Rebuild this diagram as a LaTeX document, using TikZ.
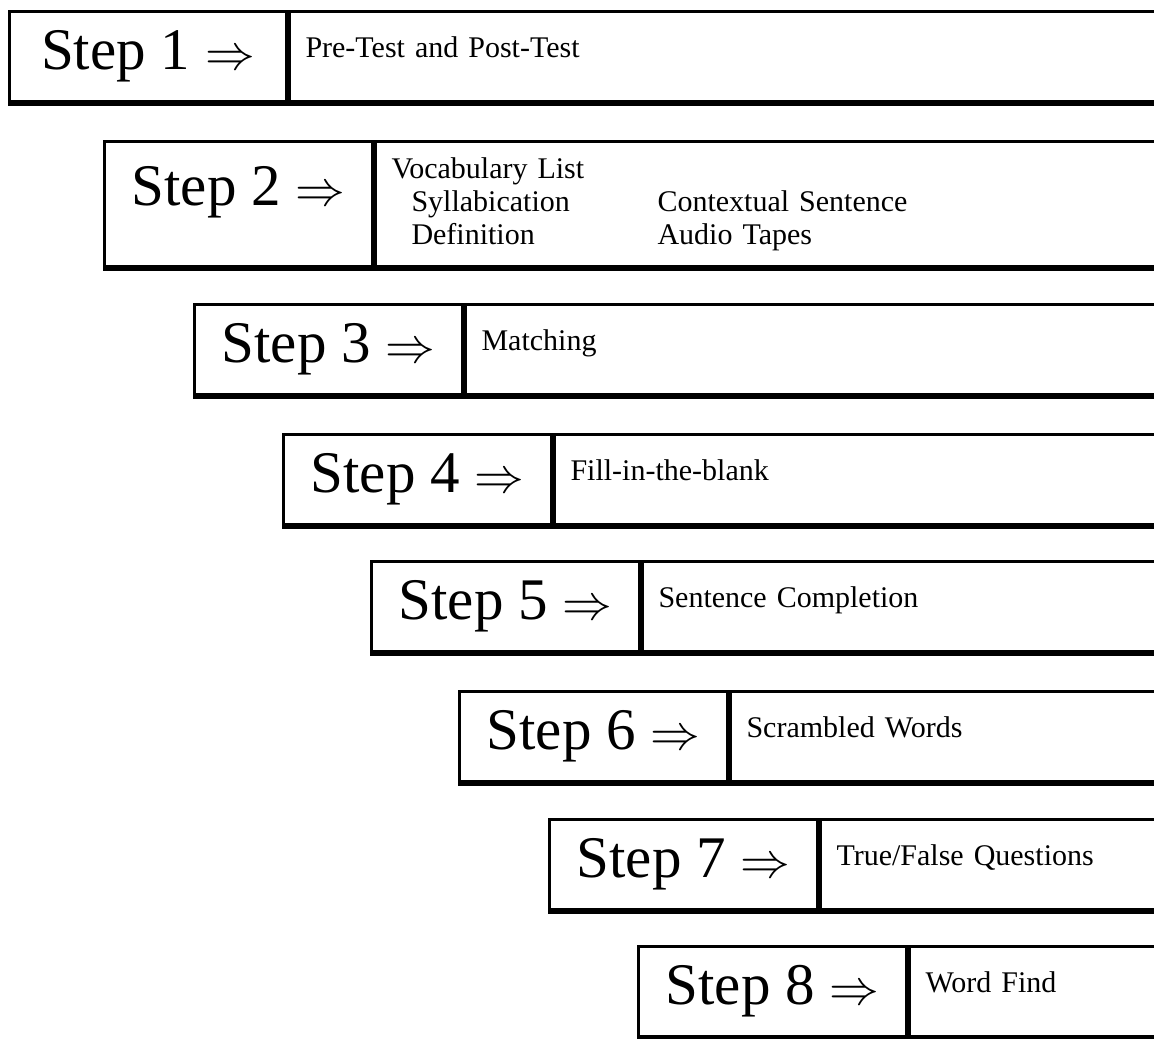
\documentclass[tikz,border=0pt]{standalone}
\usepackage{fontspec}
\setmainfont{Liberation Serif}
\usetikzlibrary{positioning}

\newcommand{\steptext}{\fontsize{29.5}{31}\selectfont}
\newcommand{\tasktext}{\fontsize{15}{16.5}\selectfont}

\begin{document}
\begin{tikzpicture}[x=0.5pt, y=-0.5pt,  %Unidade em pixels, eixo y para baixo
	stepbox/.style={draw, line width=1.5pt, anchor=north west, minimum width=134pt, minimum height=45pt, inner sep=0pt, font=\steptext},
	taskframe/.style={draw, line width=1.5pt, anchor=north west, text width=434pt, inner xsep=8pt, inner ysep=0pt, align=left, font=\tasktext},
	taskbox/.style={taskframe, minimum height=45pt, text height=10pt, text depth=9pt},
	listbox/.style={taskframe, minimum height=62.5pt},
	floorline/.style={line width=3pt}]
					%Moldura
	\useasboundingbox (0,0) rectangle (1154,1038);
	\clip (0,0) rectangle (1154,1038);
					%Passo 1
	\node[stepbox, minimum width=138.5pt] (step1) at (8,10) {Step 1 $\Rightarrow$};
	\node[taskbox] (task1) at (step1.north east) {Pre-Test and Post-Test};
	\draw[floorline] (step1.south west) -- (task1.south east); %Base grossa
					%Passo 2
	\node[stepbox, minimum height=62.5pt, text depth=18pt] (step2) at (103,140) {Step 2 $\Rightarrow$};
	\node[listbox] (task2) at (step2.north east) {Vocabulary List\\
		\hspace*{10pt}\makebox[123pt][l]{Syllabication}Contextual Sentence\\
		\hspace*{10pt}\makebox[123pt][l]{Definition}Audio Tapes};
	\draw[floorline] (step2.south west) -- (task2.south east); %Base grossa
					%Passo 3
	\node[stepbox] (step3) at (193,303) {Step 3 $\Rightarrow$};
	\node[taskbox] (task3) at (step3.north east) {Matching};
	\draw[floorline] (step3.south west) -- (task3.south east);
					%Passo 4
	\node[stepbox] (step4) at (282,433) {Step 4 $\Rightarrow$};
	\node[taskbox] (task4) at (step4.north east) {Fill-in-the-blank};
	\draw[floorline] (step4.south west) -- (task4.south east);
					%Passo 5
	\node[stepbox] (step5) at (370,560) {Step 5 $\Rightarrow$};
	\node[taskbox] (task5) at (step5.north east) {Sentence Completion};
	\draw[floorline] (step5.south west) -- (task5.south east);
					%Passo 6
	\node[stepbox] (step6) at (458,690) {Step 6 $\Rightarrow$};
	\node[taskbox] (task6) at (step6.north east) {Scrambled Words};
	\draw[floorline] (step6.south west) -- (task6.south east);
					%Passo 7
	\node[stepbox] (step7) at (548,818) {Step 7 $\Rightarrow$};
	\node[taskbox] (task7) at (step7.north east) {True/False Questions};
	\draw[floorline] (step7.south west) -- (task7.south east);
					%Passo 8
	\node[stepbox] (step8) at (637,945) {Step 8 $\Rightarrow$};
	\node[taskbox] (task8) at (step8.north east) {Word Find};
	\draw[floorline] (step8.south west) -- (task8.south east);
\end{tikzpicture}
\end{document}
